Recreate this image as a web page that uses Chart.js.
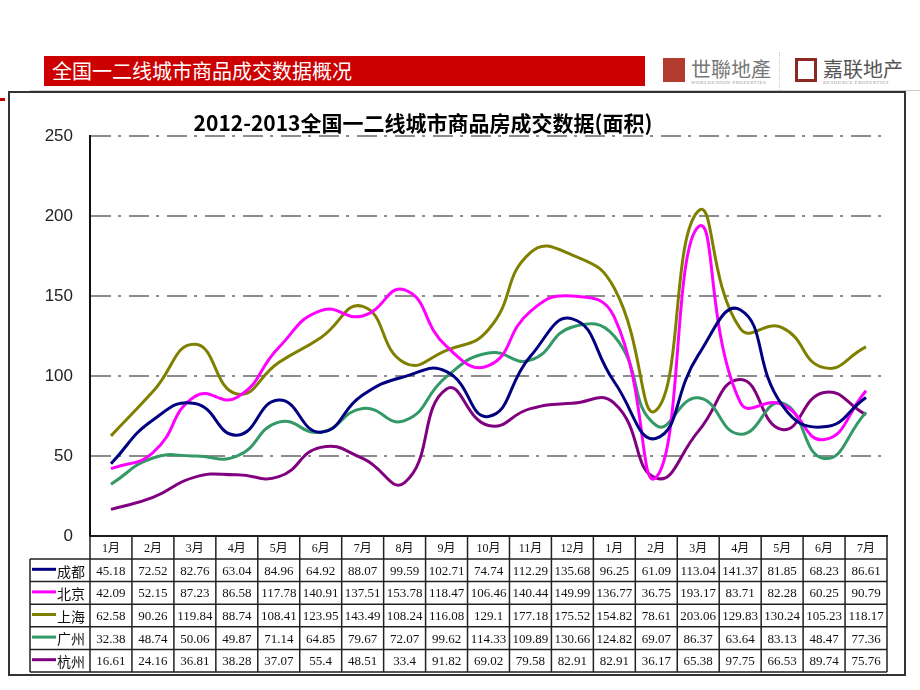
<!DOCTYPE html>
<html>
<head>
<meta charset="utf-8">
<script src="https://cdn.jsdelivr.net/npm/chart.js@4"></script>
<style>
  html, body { margin:0; padding:0; background:#fff; width:920px; height:690px; overflow:hidden; position:relative; font-family:"Noto Sans CJK SC", sans-serif; }
  #bar { position:absolute; left:44px; top:56px; width:601px; height:30px; background:#CC0000; color:#fff; font-size:20px; line-height:30px; padding-left:8px; box-sizing:border-box; white-space:nowrap; }
  #ruler { position:absolute; left:30px; top:90px; width:890px; height:0; border-top:1px solid #ccc; }
  #redmark { position:absolute; left:0; top:98px; width:5px; height:3px; background:#c00; }
  #frame { position:absolute; left:8px; top:91px; width:894px; height:581px; border:2px solid #333; }
  canvas { display:block; }
  .logo { position:absolute; top:56px; height:30px; white-space:nowrap; }
  .logo .icon { position:absolute; left:0; top:2px; width:22px; height:24px; }
  .logo .name { position:absolute; left:28px; top:-2px; font-size:20px; color:#777; font-family:"Noto Sans CJK TC", serif; letter-spacing:0px; }
  .logo .sub { position:absolute; left:28px; top:24px; font-size:5px; color:#999; font-family:"Liberation Serif", serif; letter-spacing:0.5px; }
  #sep { position:absolute; left:779px; top:52px; height:40px; border-left:1px dotted #ccc; }
</style>
</head>
<body>
<div id="bar">全国一二线城市商品成交数据概况</div>
<div class="logo" style="left:663px;">
  <div class="icon" style="background:#b33a2e;"></div>
  <div class="name">世聯地產</div>
  <div class="sub">WORLDUNION PROPERTIES</div>
</div>
<div id="sep"></div>
<div class="logo" style="left:795px;">
  <div class="icon" style="border:3px solid #8b2a22; width:16px; height:18px; background:#fff;"></div>
  <div class="name" style="font-family:'Noto Sans CJK SC'; color:#555;">嘉联地产</div>
  <div class="sub">RESOURCE PROPERTIES</div>
</div>
<div id="ruler"></div>
<div id="redmark"></div>
<div id="frame"><canvas id="c" width="894" height="581"></canvas></div>
<script>
const chartTitle = '2012-2013全国一二线城市商品房成交数据(面积)';
const months = ['1月','2月','3月','4月','5月','6月','7月','8月','9月','10月','11月','12月','1月','2月','3月','4月','5月','6月','7月'];
const cities = ['成都','北京','上海','广州','杭州'];
const chengdu   = [45.18,72.52,82.76,63.04,84.96,64.92,88.07,99.59,102.71,74.74,112.29,135.68,96.25,61.09,113.04,141.37,81.85,68.23,86.61];
const beijing   = [42.09,52.15,87.23,86.58,117.78,140.91,137.51,153.78,118.47,106.46,140.44,149.99,136.77,36.75,193.17,83.71,82.28,60.25,90.79];
const shanghai  = [62.58,90.26,119.84,88.74,108.41,123.95,143.49,108.24,116.08,129.1,177.18,175.52,154.82,78.61,203.06,129.83,130.24,105.23,118.17];
const guangzhou = [32.38,48.74,50.06,49.87,71.14,64.85,79.67,72.07,99.62,114.33,109.89,130.66,124.82,69.07,86.37,63.64,83.13,48.47,77.36];
const hangzhou  = [16.61,24.16,36.81,38.28,37.07,55.4,48.51,33.4,91.82,69.02,79.58,82.91,82.91,36.17,65.38,97.75,66.53,89.74,75.76];
const colors = ['#000080','#FF00FF','#808000','#339966','#800080'];
const seriesData = [chengdu, beijing, shanghai, guangzhou, hangzhou];

const tablePlugin = {
  id: 'dataTable',
  afterDraw(chart) {
    const ctx = chart.ctx;
    const { left, right, bottom } = chart.chartArea;
    const n = months.length;
    const colW = (right - left) / n;
    const headerH = 23;
    const rowH = 22.6;
    const legendLeft = left - 60;
    const y1 = bottom + headerH;
    const yEnd = y1 + rowH * cities.length;
    ctx.save();
    ctx.strokeStyle = '#222';
    ctx.lineWidth = 1.5;
    ctx.beginPath();
    ctx.moveTo(left, bottom); ctx.lineTo(right, bottom);
    ctx.moveTo(legendLeft, y1); ctx.lineTo(right, y1);
    for (let k = 1; k <= cities.length; k++) {
      ctx.moveTo(legendLeft, y1 + k * rowH); ctx.lineTo(right, y1 + k * rowH);
    }
    ctx.moveTo(legendLeft, y1); ctx.lineTo(legendLeft, yEnd);
    for (let i = 0; i <= n; i++) {
      const x = left + i * colW;
      ctx.moveTo(x, bottom); ctx.lineTo(x, yEnd);
    }
    ctx.stroke();
    // header
    ctx.fillStyle = '#111';
    ctx.textAlign = 'center';
    ctx.textBaseline = 'middle';
    ctx.font = '12px "Liberation Serif", "Noto Sans CJK SC", serif';
    const xs = chart.scales.x;
    months.forEach((m, i) => {
      ctx.fillText(m, xs.getPixelForValue(i), bottom + headerH / 2 + 1);
    });
    // rows
    ctx.font = '13px "Liberation Serif", serif';
    seriesData.forEach((arr, r) => {
      const cy = y1 + r * rowH + rowH / 2 + 1;
      arr.forEach((v, i) => {
        ctx.fillText(String(v), xs.getPixelForValue(i), cy);
      });
      // legend cell
      ctx.strokeStyle = colors[r];
      ctx.lineWidth = 3;
      ctx.beginPath();
      ctx.moveTo(legendLeft + 2, cy - 2); ctx.lineTo(legendLeft + 26, cy - 2);
      ctx.stroke();
      ctx.textAlign = 'left';
      ctx.font = '14px "Noto Sans CJK SC", sans-serif';
      ctx.fillStyle = '#111';
      ctx.fillText(cities[r], legendLeft + 27, cy);
      ctx.textAlign = 'center';
      ctx.font = '13px "Liberation Serif", serif';
    });
    // title
    ctx.font = 'bold 21px "Noto Sans CJK SC", sans-serif';
    ctx.textAlign = 'center';
    ctx.fillStyle = '#000';
    ctx.fillText(chartTitle, 413, 30);
    ctx.restore();
  }
};

new Chart(document.getElementById('c'), {
  type: 'line',
  data: {
    labels: months,
    datasets: cities.map((c, i) => ({
      label: c,
      data: seriesData[i],
      borderColor: colors[i],
      backgroundColor: colors[i],
      borderWidth: 3,
      pointRadius: 0,
      tension: 0.5,
      fill: false
    }))
  },
  options: {
    responsive: false,
    animation: false,
    layout: { padding: { top: 43, right: 17, left: 0, bottom: 0 } },
    plugins: { legend: { display: false }, title: { display: false }, tooltip: { enabled: false } },
    scales: {
      x: {
        offset: true,
        grid: { display: false },
        ticks: { display: false },
        border: { display: true, color: '#111', width: 2 },
        afterFit(s) { s.height = 138; }
      },
      y: {
        min: 0, max: 250,
        ticks: { stepSize: 50, padding: 17, color: '#222', font: { family: '"Liberation Sans", Arial, sans-serif', size: 17 } },
        grid: {
          drawTicks: false,
          lineWidth: 2,
          color: (ctx) => (ctx.tick && ctx.tick.value === 0) ? 'rgba(0,0,0,0)' : '#8c8c8c'
        },
        border: { display: true, color: '#111', width: 2, dash: [20, 7, 3, 8] },
        afterFit(s) { s.width = 80; }
      }
    }
  },
  plugins: [tablePlugin]
});
</script>
</body>
</html>
